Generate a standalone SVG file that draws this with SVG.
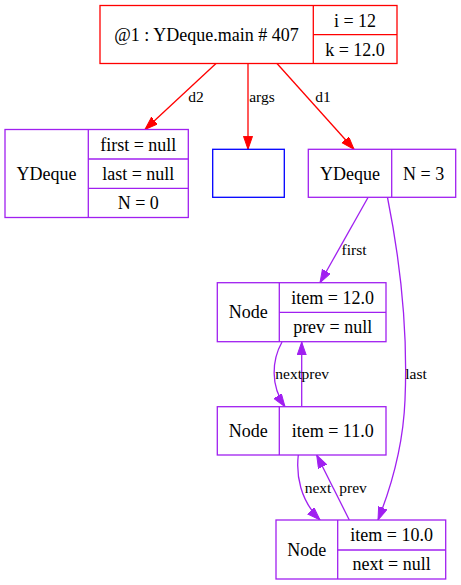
<svg xmlns="http://www.w3.org/2000/svg" width="461" height="585" viewBox="0 0 461 585">
<style>
.r{fill:#fff;stroke:#ff0000;stroke-width:1.3}
.p{fill:#fff;stroke:#a020f0;stroke-width:1.3}
.b{fill:#fff;stroke:#0000ff;stroke-width:1.3}
.lr{stroke:#ff0000;stroke-width:1.3;fill:none}
.lp{stroke:#a020f0;stroke-width:1.3;fill:none}
.t{font-family:"Liberation Serif","Times New Roman",serif;font-size:18px;fill:#000;text-anchor:middle}
.e{font-family:"Liberation Serif","Times New Roman",serif;font-size:15.5px;fill:#000;text-anchor:middle}
</style>
<defs>
<marker id="ar" markerUnits="userSpaceOnUse" markerWidth="14" markerHeight="10" refX="13" refY="4.5" orient="auto" viewBox="0 0 14 10"><path d="M0,0 L13,4.5 L0,9 z" fill="#ff0000" stroke="#ff0000" stroke-width="1"/></marker>
<marker id="ap" markerUnits="userSpaceOnUse" markerWidth="14" markerHeight="10" refX="13" refY="4.5" orient="auto" viewBox="0 0 14 10"><path d="M0,0 L13,4.5 L0,9 z" fill="#a020f0" stroke="#a020f0" stroke-width="1"/></marker>
</defs>
<rect width="461" height="585" fill="#fff"/>
<g id="connectors">
<line class="lr" x1="216" y1="63.5" x2="145" y2="129.5" marker-end="url(#ar)"/>
<line class="lr" x1="248" y1="63.5" x2="248" y2="149.3" marker-end="url(#ar)"/>
<line class="lr" x1="277" y1="63.5" x2="354" y2="149.3" marker-end="url(#ar)"/>
<line class="lp" x1="368" y1="197.5" x2="320" y2="282.7" marker-end="url(#ap)"/>
<path class="lp" d="M387.5,197.5 C400,260 408,330 405,400 C403,450 390,490 378,520" marker-end="url(#ap)"/>
<path class="lp" d="M282,342 C272,360 270,385 285,406.7" marker-end="url(#ap)"/>
<line class="lp" x1="301.7" y1="406.7" x2="301.7" y2="342" marker-end="url(#ap)"/>
<path class="lp" d="M298.3,455 C296,475 300,500 320,520" marker-end="url(#ap)"/>
<line class="lp" x1="349.3" y1="520" x2="316.7" y2="455" marker-end="url(#ap)"/>
<text class="e" x="196" y="102">d2</text>
<text class="e" x="262" y="102">args</text>
<text class="e" x="323" y="102">d1</text>
<text class="e" x="354" y="255">first</text>
<text class="e" x="416" y="379">last</text>
<text class="e" x="302" y="379" style="text-anchor:end">next</text>
<text class="e" x="301.5" y="379" style="text-anchor:start">prev</text>
<text class="e" x="318" y="493">next</text>
<text class="e" x="353" y="493">prev</text>
</g>
<g id="main">
<rect class="r" x="100" y="5.5" width="297" height="58"/>
<line class="lr" x1="313.3" y1="5.5" x2="313.3" y2="63.5"/>
<line class="lr" x1="313.3" y1="34.6" x2="397" y2="34.6"/>
<text class="t" x="206.5" y="40.5">@1 : YDeque.main # 407</text>
<text class="t" x="355" y="26.5">i = 12</text>
<text class="t" x="355" y="55.5">k = 12.0</text>
</g>
<g id="ydeque_d2">
<rect class="p" x="5" y="129.5" width="183.3" height="88"/>
<line class="lp" x1="88.3" y1="129.5" x2="88.3" y2="217.5"/>
<line class="lp" x1="88.3" y1="159" x2="188.3" y2="159"/>
<line class="lp" x1="88.3" y1="188.3" x2="188.3" y2="188.3"/>
<text class="t" x="46.6" y="180">YDeque</text>
<text class="t" x="138.3" y="150.5">first = null</text>
<text class="t" x="138.3" y="179.5">last = null</text>
<text class="t" x="138.3" y="208.5">N = 0</text>
</g>
<g id="args">
<rect class="b" x="212.7" y="149.3" width="71.6" height="48"/>
</g>
<g id="ydeque_d1">
<rect class="p" x="308.3" y="149.3" width="147.4" height="48"/>
<line class="lp" x1="391.7" y1="149.3" x2="391.7" y2="197.3"/>
<text class="t" x="350" y="180">YDeque</text>
<text class="t" x="423.7" y="180">N = 3</text>
</g>
<g id="node1">
<rect class="p" x="217.3" y="282.7" width="168.7" height="59"/>
<line class="lp" x1="279.3" y1="282.7" x2="279.3" y2="341.7"/>
<line class="lp" x1="279.3" y1="312.3" x2="386" y2="312.3"/>
<text class="t" x="248.3" y="318">Node</text>
<text class="t" x="332.7" y="303.5">item = 12.0</text>
<text class="t" x="332.7" y="332.8">prev = null</text>
</g>
<g id="node2">
<rect class="p" x="217.3" y="406.7" width="168.7" height="48.3"/>
<line class="lp" x1="279.3" y1="406.7" x2="279.3" y2="455"/>
<text class="t" x="248.3" y="437">Node</text>
<text class="t" x="332.7" y="437">item = 11.0</text>
</g>
<g id="node3">
<rect class="p" x="276" y="520" width="169.7" height="59"/>
<line class="lp" x1="337.7" y1="520" x2="337.7" y2="579"/>
<line class="lp" x1="337.7" y1="550" x2="445.7" y2="550"/>
<text class="t" x="306.8" y="556">Node</text>
<text class="t" x="391.7" y="540.5">item = 10.0</text>
<text class="t" x="391.7" y="569.5">next = null</text>
</g>
</svg>
